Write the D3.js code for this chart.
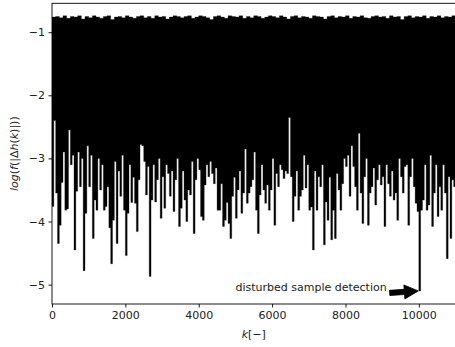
<!DOCTYPE html>
<html>
<head>
<meta charset="utf-8">
<script src="https://cdn.jsdelivr.net/npm/d3@7"></script>
<style>
  html, body { margin: 0; padding: 0; background: #fff; }
  svg { display: block; font-family: "DejaVu Sans", sans-serif; }
</style>
</head>
<body>
<svg id="chart" width="455" height="347"></svg>
<script>
// ---- data ----
const kStep = 50;          // spacing of the lower-envelope samples in k
const topStep = 100;       // spacing of the upper-envelope samples in k
const xTicks = [0, 2000, 4000, 6000, 8000, 10000];
const yTicks = [-5, -4, -3, -2, -1];

// upper envelope of log(f(|Δh(k)|)), one value per 100 samples
const topVals = [
  -0.76,-0.75,-0.77,-0.74,-0.78,-0.75,-0.76,-0.74,-0.79,-0.75,
  -0.77,-0.74,-0.76,-0.78,-0.75,-0.74,-0.80,-0.76,-0.75,-0.77,
  -0.74,-0.76,-0.78,-0.75,-0.74,-0.77,-0.75,-0.78,-0.74,-0.76,
  -0.75,-0.79,-0.76,-0.74,-0.75,-0.77,-0.75,-0.74,-0.78,-0.76,
  -0.74,-0.75,-0.77,-0.80,-0.75,-0.74,-0.76,-0.78,-0.74,-0.75,
  -0.76,-0.74,-0.78,-0.75,-0.77,-0.74,-0.75,-0.78,-0.76,-0.74,
  -0.75,-0.77,-0.74,-0.76,-0.79,-0.75,-0.74,-0.77,-0.75,-0.76,
  -0.78,-0.74,-0.75,-0.76,-0.79,-0.75,-0.74,-0.77,-0.75,-0.76,
  -0.74,-0.78,-0.75,-0.76,-0.74,-0.77,-0.78,-0.75,-0.74,-0.76,
  -0.75,-0.78,-0.74,-0.76,-0.75,-0.80,-0.75,-0.74,-0.77,-0.75,
  -0.76,-0.74,-0.78,-0.75,-0.76,-0.74,-0.77,-0.75,-0.76,-0.74
];

// lower envelope, one value per 50 samples (k = 0, 50, ..., 10950)
const lowVals = [
  -3.76,-2.40,-3.55,-4.35,-4.06,-3.38,-2.90,-3.82,-3.80,-2.55,
  -3.10,-2.95,-4.45,-3.52,-2.90,-3.45,-3.00,-4.78,-3.87,-2.80,
  -3.45,-2.95,-4.27,-3.66,-3.82,-3.00,-3.50,-3.10,-3.82,-3.76,
  -3.45,-4.10,-4.67,-3.98,-3.05,-4.35,-3.20,-3.60,-2.95,-3.82,
  -4.54,-3.87,-3.10,-3.70,-3.30,
  -3.71,-4.16,-3.34,-2.78,-2.80,-3.05,-3.58,-3.13,-4.87,-3.66,
  -3.10,-3.69,-3.34,-3.00,-3.95,-3.29,-3.79,-3.10,-3.24,-3.60,
  -3.20,-3.84,-3.34,-3.00,-4.08,-3.79,-3.20,-3.66,-4.00,-3.50,
  -3.58,-3.05,-4.19,-3.34,-3.00,-3.18,-3.92,-3.98,-3.42,-3.10,
  -3.29,-3.05,-3.24,-3.40,-3.15,-3.82,
  -3.82,-3.40,-4.08,-3.98,-3.70,-4.03,-4.27,-3.60,-3.30,-3.95,
  -3.50,-3.20,-3.87,-3.55,-2.85,-3.71,-3.55,-3.45,-3.34,-2.90,
  -3.82,-4.19,-3.58,-3.10,-3.50,-3.71,-3.42,-3.82,-3.50,-3.00,
  -4.06,-3.24,-3.45,-3.10,-3.18,-3.32,-3.20,-3.24,-2.35,-3.29,
  -4.00,-3.60,-3.20,-3.82,-3.60,
  -3.50,-2.95,-3.47,-3.10,-3.82,-3.77,-4.45,-3.20,-3.82,-3.29,
  -3.45,-3.10,-4.37,-3.69,-3.98,-3.30,-4.29,-3.82,-4.27,-3.24,
  -3.50,-3.82,-3.40,-3.00,-3.13,-2.95,-3.60,-2.80,-3.13,-3.45,
  -3.82,-2.60,-3.55,-4.03,-3.29,-3.00,-4.06,-3.55,-3.45,-3.15,
  -3.74,-3.34,-3.10,-3.42,-3.29,
  -4.08,-3.10,-3.40,-3.60,-3.20,-3.66,-3.55,-3.98,-3.00,-3.29,
  -3.55,-3.13,-3.10,-4.06,-3.29,-3.00,-3.45,-3.71,-3.84,-5.10,
  -3.82,-3.66,-3.10,-3.82,-3.74,-2.95,-4.08,-3.55,-3.10,-3.92,
  -3.45,-3.82,-3.10,-3.55,-4.59,-3.29,-4.27,-3.34,-3.45
];

const annotationText = "disturbed sample detection";
const annotationTextPos = [5000, -5.1];
const annotationTarget = [10000, -5.1];

// ---- layout ----
const svg = d3.select("#chart");
const plot = { left: 52, right: 455.5, top: 3.3, bottom: 304 };
const x = d3.scaleLinear().domain([0, 11000]).range([plot.left, plot.right]);
const y = d3.scaleLinear().domain([-5.307, -0.542]).range([plot.bottom, plot.top]);

svg.append("defs").append("clipPath").attr("id", "clip")
  .append("rect")
  .attr("x", plot.left).attr("y", plot.top)
  .attr("width", plot.right - plot.left).attr("height", plot.bottom - plot.top);

const samples = lowVals.map((v, i) => ({
  k: i * kStep,
  low: v,
  top: topVals[Math.floor(i * kStep / topStep)]
}));
// the last column keeps its own values up to the end of the axis
const last = samples[samples.length - 1];
const areaData = samples.concat([{ k: 11000, low: last.low, top: last.top }]);

const g = svg.append("g").attr("clip-path", "url(#clip)");

const trace = d3.area()
  .x(d => x(d.k))
  .y0(d => y(d.low))
  .y1(d => y(d.top))
  .curve(d3.curveStepAfter);
g.append("path")
  .datum(areaData)
  .attr("d", trace)
  .attr("fill", "#000")
  .attr("stroke", "#000")
  .attr("stroke-width", 0.3);

// ---- axes ----
const axisColor = "#000";
const fs = 11;

const xAxis = d3.axisBottom(x).tickValues(xTicks).tickSize(3.5).tickPadding(3.5)
  .tickFormat(d3.format("d"));
const xg = svg.append("g").attr("transform", `translate(0,${plot.bottom})`).call(xAxis);
const yAxis = d3.axisLeft(y).tickValues(yTicks).tickSize(3.5).tickPadding(3.5)
  .tickFormat(d => (d < 0 ? "\u2212" : "") + Math.abs(d));
const yg = svg.append("g").attr("transform", `translate(${plot.left},0)`).call(yAxis);

[xg, yg].forEach(a => {
  a.select(".domain").remove();
  a.selectAll(".tick line").attr("stroke", axisColor).attr("stroke-width", 0.9);
  a.selectAll(".tick text").attr("fill", "#222").attr("font-size", fs)
    .attr("font-family", "DejaVu Sans, sans-serif");
});

// frame (spines)
svg.append("rect")
  .attr("x", plot.left).attr("y", plot.top)
  .attr("width", plot.right - plot.left).attr("height", plot.bottom - plot.top)
  .attr("fill", "none").attr("stroke", axisColor).attr("stroke-width", 0.9);

// axis labels
const xl = svg.append("text")
  .attr("x", (plot.left + plot.right) / 2).attr("y", 337.5)
  .attr("text-anchor", "middle").attr("font-size", fs).attr("fill", "#222");
xl.append("tspan").attr("font-style", "italic").text("k");
xl.append("tspan").text("[\u2212]");

const yl = svg.append("text")
  .attr("transform", `translate(18,${(plot.top + plot.bottom) / 2}) rotate(-90)`)
  .attr("text-anchor", "middle").attr("font-size", fs).attr("fill", "#222");
[["log", true], ["(", false], ["f", true], ["(|\u0394", false], ["h", true],
 ["(", false], ["k", true], [")|))", false]].forEach(([t, it]) => {
  yl.append("tspan").attr("font-style", it ? "italic" : "normal").text(t);
});

// annotation
const at = svg.append("text")
  .attr("x", x(annotationTextPos[0])).attr("y", y(annotationTextPos[1]))
  .attr("font-size", fs).attr("fill", "#222").text(annotationText);
const textEnd = x(annotationTextPos[0]) + at.node().getComputedTextLength();

const tip = [x(annotationTarget[0]) - 0.5, y(annotationTarget[1])];
const tail = [textEnd + 3, y(annotationTarget[1]) + 2];
const ang = Math.atan2(tip[1] - tail[1], tip[0] - tail[0]);
const len = Math.hypot(tip[0] - tail[0], tip[1] - tail[1]);
const headL = 14, headW = 7, shaftW = 2.6;
const pts = [
  [0, -shaftW], [len - headL, -shaftW], [len - headL, -headW], [len, 0],
  [len - headL, headW], [len - headL, shaftW], [0, shaftW]
].map(([u, v]) => [
  tail[0] + u * Math.cos(ang) - v * Math.sin(ang),
  tail[1] + u * Math.sin(ang) + v * Math.cos(ang)
]);
svg.append("polygon")
  .attr("points", pts.map(p => p.join(",")).join(" "))
  .attr("fill", "#000").attr("stroke", "#000").attr("stroke-width", 0.8);
</script>
</body>
</html>
